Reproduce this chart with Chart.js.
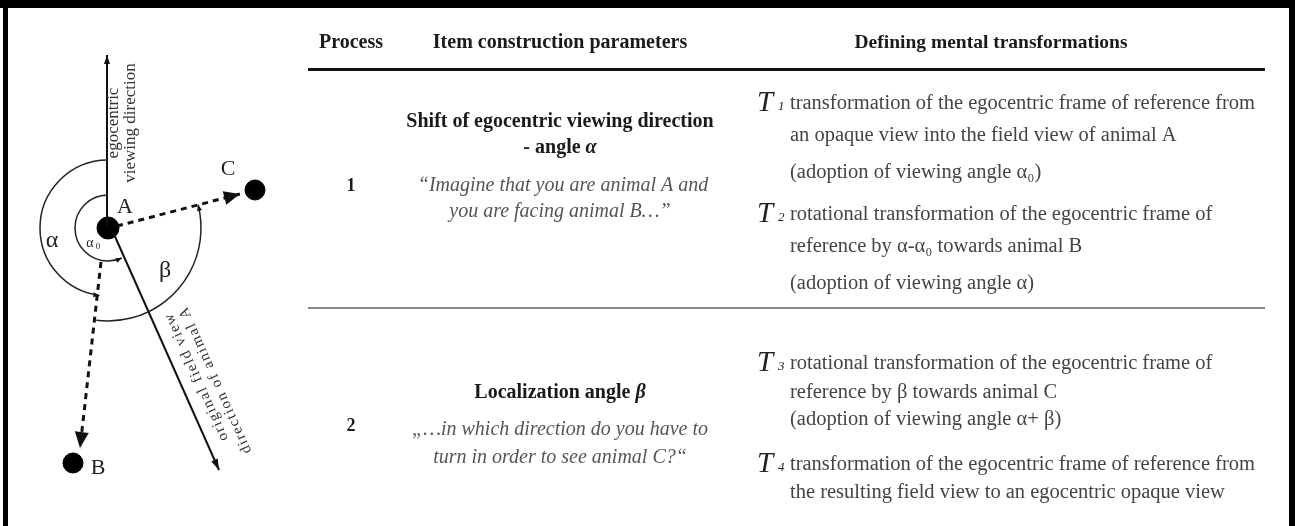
<!DOCTYPE html>
<html>
<head>
<meta charset="utf-8">
<script src="https://cdn.jsdelivr.net/npm/chart.js@4.4.1/dist/chart.umd.min.js"></script>
<style>
html, body { margin: 0; padding: 0; background: #fff; }
</style>
</head>
<body>
<canvas id="chart" width="1295" height="526"></canvas>
<script>
// --- diagram data (animals, rays from A, angle arcs) ---
const animalNames = ['A', 'B', 'C'];
const animalX = [108, 73, 255];
const animalY = [228, 463, 190];

const rayNames = ['egocentric viewing direction', 'original field view', 'to B', 'to C'];
const rayStartX = [107, 113, 101, 117];
const rayStartY = [226, 232, 262, 226];
const rayEndX = [107, 219, 80, 240];
const rayEndY = [55, 470, 448, 194];

const arcLabels = ['α', 'α0', 'β'];
const arcRadius = [68, 33, 93];
const arcFromRay = [0, 0, 2];
const arcToRay = [2, 1, 3];

// --- table text ---
const headerLabels = ['Process', 'Item construction parameters', 'Defining mental transformations'];
const processIds = ['1', '2'];
const paramTitles = [['Shift of egocentric viewing direction', '- angle ', 'α'], ['Localization angle ', '', 'β']];
const paramPrompts = [
    ['\u201CImagine that you are animal A and', 'you are facing animal B\u2026\u201D'],
    ['\u201E\u2026in which direction do you have to', 'turn in order to see animal C?\u201C']
];
const transformIds = ['1', '2', '3', '4'];
const transformLines = [
    ['transformation of the egocentric frame of reference from', 'an opaque view into the field view of animal A', '(adoption of viewing angle \u03B1\u2080)'],
    ['rotational transformation of the egocentric frame of', 'reference by \u03B1-\u03B1\u2080 towards animal B', '(adoption of viewing angle \u03B1)'],
    ['rotational transformation of the egocentric frame of', 'reference by \u03B2 towards animal C', '(adoption of viewing angle \u03B1+ \u03B2)'],
    ['transformation of the egocentric frame of reference from', 'the resulting field view to an egocentric opaque view']
];

const SERIF = "'Liberation Serif', 'DejaVu Serif', serif";

function rayDataset(i, dashed) {
    return {
        type: 'line',
        label: rayNames[i],
        data: [{ x: rayStartX[i], y: rayStartY[i] }, { x: rayEndX[i], y: rayEndY[i] }],
        borderColor: '#111',
        borderWidth: dashed ? 3 : 2,
        borderDash: dashed ? [6, 5] : [],
        pointRadius: 0,
        showLine: true,
        fill: false
    };
}

function arrowHead(ctx, x1, y1, x2, y2, len, half) {
    const a = Math.atan2(y2 - y1, x2 - x1);
    ctx.beginPath();
    ctx.moveTo(x2, y2);
    ctx.lineTo(x2 - len * Math.cos(a) + half * Math.sin(a), y2 - len * Math.sin(a) - half * Math.cos(a));
    ctx.lineTo(x2 - len * Math.cos(a) - half * Math.sin(a), y2 - len * Math.sin(a) + half * Math.cos(a));
    ctx.closePath();
    ctx.fill();
}

// draws runs of [text, font] centred on cx
function centredRuns(ctx, runs, cx, y) {
    let w = 0;
    runs.forEach(r => { ctx.font = r[1]; w += ctx.measureText(r[0]).width; });
    let x = cx - w / 2;
    ctx.textAlign = 'left';
    runs.forEach(r => { ctx.font = r[1]; ctx.fillText(r[0], x, y); x += ctx.measureText(r[0]).width; });
}

const figurePlugin = {
    id: 'figure',
    beforeDraw(chart) {
        const ctx = chart.ctx;
        ctx.save();
        ctx.fillStyle = '#fff';
        ctx.fillRect(0, 0, chart.width, chart.height);
        ctx.restore();
    },
    afterDatasetsDraw(chart) {
        const ctx = chart.ctx;
        const sx = chart.scales.x, sy = chart.scales.y;
        const X = v => sx.getPixelForValue(v);
        const Y = v => sy.getPixelForValue(v);
        ctx.save();

        // arrowheads on the rays
        ctx.fillStyle = '#111';
        arrowHead(ctx, X(rayStartX[0]), Y(rayStartY[0]), X(rayEndX[0]), Y(rayEndY[0]), 9, 3);
        arrowHead(ctx, X(rayStartX[1]), Y(rayStartY[1]), X(rayEndX[1]), Y(rayEndY[1]), 11, 3.5);
        arrowHead(ctx, X(rayStartX[2]), Y(rayStartY[2]), X(rayEndX[2]), Y(rayEndY[2]), 16, 7);
        arrowHead(ctx, X(rayStartX[3]), Y(rayStartY[3]), X(rayEndX[3]), Y(rayEndY[3]), 16, 7);

        // angle arcs around A
        const cx = X(animalX[0]), cy = Y(animalY[0]);
        const rayAngle = i => Math.atan2(Y(rayEndY[i]) - cy, X(rayEndX[i]) - cx);
        ctx.strokeStyle = '#222';
        ctx.lineWidth = 1.5;
        arcRadius.forEach((r, i) => {
            const rp = X(animalX[0] + r) - cx;
            const a0 = rayAngle(arcFromRay[i]), a1 = rayAngle(arcToRay[i]);
            ctx.beginPath();
            ctx.arc(cx, cy, rp, a0, a1, true);
            ctx.stroke();
            const ex = cx + rp * Math.cos(a1), ey = cy + rp * Math.sin(a1);
            const tx = Math.sin(a1), ty = -Math.cos(a1);
            arrowHead(ctx, ex - tx * 6, ey - ty * 6, ex, ey, 6, 2.5);
        });

        // diagram labels
        ctx.fillStyle = '#222';
        ctx.textBaseline = 'middle';
        ctx.textAlign = 'center';
        ctx.font = '22px ' + SERIF;
        ctx.fillText(animalNames[0], X(animalX[0]) + 17, Y(animalY[0]) - 21);
        ctx.fillText(animalNames[1], X(animalX[1]) + 25, Y(animalY[1]) + 5);
        ctx.fillText(animalNames[2], X(animalX[2]) - 27, Y(animalY[2]) - 21);
        ctx.font = '24px ' + SERIF;
        ctx.fillText(arcLabels[0], 52, 241);
        ctx.fillText(arcLabels[2], 165, 271);
        ctx.font = '14px ' + SERIF;
        ctx.fillText(arcLabels[1].charAt(0), 90, 243);
        ctx.font = '9px ' + SERIF;
        ctx.fillText(arcLabels[1].charAt(1), 98, 247);

        // rotated captions
        ctx.font = '17px ' + SERIF;
        ctx.fillStyle = '#333';
        ctx.save();
        ctx.translate(114, 123);
        ctx.rotate(-Math.PI / 2);
        ctx.textAlign = 'center';
        ctx.fillText('egocentric', 0, 0);
        ctx.fillText('viewing direction', 0, 17);
        ctx.restore();

        ctx.save();
        ctx.font = '15px ' + SERIF;
        ctx.letterSpacing = '1.5px';
        const fa = Math.atan2(Y(rayEndY[1]) - Y(rayStartY[1]), X(rayEndX[1]) - X(rayStartX[1]));
        ctx.translate(168, 313);
        ctx.rotate(fa + Math.PI);
        ctx.textAlign = 'right';
        ctx.fillText('original field view', 0, 0);
        ctx.fillText('direction of animal A', 0, 16);
        ctx.restore();

        // --- table ---
        ctx.fillStyle = '#1a1a1a';
        ctx.font = 'bold 20px ' + SERIF;
        ctx.textAlign = 'center';
        ctx.fillText(headerLabels[0], 351, 43);
        ctx.fillText(headerLabels[1], 560, 43);
        ctx.font = 'bold 19.5px ' + SERIF;
        ctx.fillText(headerLabels[2], 991, 43);

        ctx.fillStyle = '#111';
        ctx.fillRect(308, 68, 957, 3);
        ctx.fillStyle = '#8a8a8a';
        ctx.fillRect(308, 307, 957, 2);

        // process numbers
        ctx.fillStyle = '#1a1a1a';
        ctx.font = 'bold 18px ' + SERIF;
        ctx.fillText(processIds[0], 351, 186);
        ctx.fillText(processIds[1], 351, 426);

        // item construction parameters
        const bold = 'bold 20px ' + SERIF, boldIt = 'italic bold 20px ' + SERIF;
        centredRuns(ctx, [[paramTitles[0][0], bold]], 560, 122);
        centredRuns(ctx, [[paramTitles[0][1], bold], [paramTitles[0][2], boldIt]], 560, 148);
        centredRuns(ctx, [[paramTitles[1][0], bold], [paramTitles[1][2], boldIt]], 560, 393);

        ctx.fillStyle = '#555';
        ctx.font = 'italic 20px ' + SERIF;
        ctx.textAlign = 'center';
        ctx.fillText(paramPrompts[0][0], 563, 186);
        ctx.fillText(paramPrompts[0][1], 560, 212);
        ctx.fillText(paramPrompts[1][0], 560, 430);
        ctx.fillText(paramPrompts[1][1], 560, 458);

        // defining mental transformations
        const lineY = [[104, 136, 173], [215, 247, 284], [364, 393, 420], [465, 493]];
        transformLines.forEach((lines, i) => {
            ctx.fillStyle = '#222';
            ctx.textAlign = 'left';
            ctx.font = 'italic 29px ' + SERIF;
            ctx.fillText('T', 757, lineY[i][0] - 1);
            ctx.font = 'italic 13px ' + SERIF;
            ctx.fillText(transformIds[i], 778, lineY[i][0] + 3);
            ctx.fillStyle = '#444';
            ctx.font = '20.5px ' + SERIF;
            lines.forEach((t, j) => ctx.fillText(t, 790, lineY[i][j]));
        });

        // frame
        ctx.fillStyle = '#000';
        ctx.fillRect(0, 0, chart.width, 8);
        ctx.fillRect(3, 0, 5, chart.height);
        ctx.fillRect(1289, 0, 6, chart.height);
        ctx.restore();
    }
};

new Chart(document.getElementById('chart'), {
    type: 'scatter',
    data: {
        datasets: [
            rayDataset(0, false),
            rayDataset(1, false),
            rayDataset(2, true),
            rayDataset(3, true),
            {
                label: 'animals',
                data: animalNames.map((n, i) => ({ x: animalX[i], y: animalY[i] })),
                backgroundColor: '#000',
                borderColor: '#000',
                pointRadius: [11, 10, 10],
                pointHoverRadius: [11, 10, 10]
            }
        ]
    },
    options: {
        responsive: false,
        animation: false,
        layout: { padding: 0, autoPadding: false },
        plugins: { legend: { display: false }, tooltip: { enabled: false } },
        scales: {
            x: { type: 'linear', min: 0, max: 1295, display: false },
            y: { type: 'linear', min: 0, max: 526, reverse: true, display: false }
        }
    },
    plugins: [figurePlugin]
});
</script>
</body>
</html>
